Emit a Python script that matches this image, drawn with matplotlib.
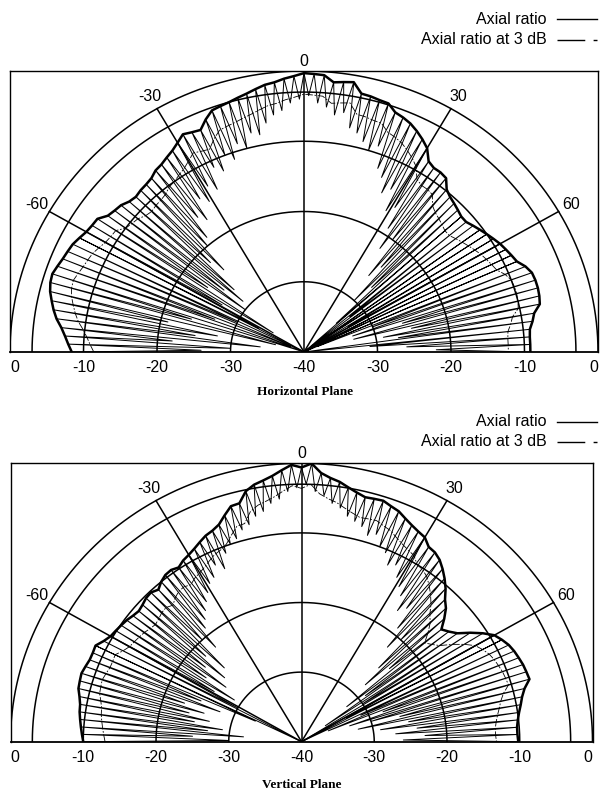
import numpy as np
import matplotlib
matplotlib.use("Agg")
import matplotlib.pyplot as plt
from matplotlib.lines import Line2D


#---DATA---
# peak angles (deg from boresight) and the spinning-linear peaks/nulls in dB
peak_angles = np.arange(-90, 91, 2)
null_angles = np.arange(-89, 90, 2)

horiz_peak = [
    -8.4, -7.9, -7.4, -6.8, -6.0, -5.4, -4.9, -4.4, -4.1, -4.0,
    -4.3, -4.6, -4.8, -5.0, -5.4, -5.8, -6.0, -6.1, -7.0, -7.3,
    -7.5, -8.0, -8.2, -8.0, -7.9, -7.7, -7.2, -7.0, -6.6, -6.2,
    -5.6, -4.9, -5.2, -5.4, -4.3, -3.4, -3.2, -3.0, -2.7, -2.4,
    -2.0, -1.6, -1.4, -1.0, -0.7, -0.3, -0.4, -0.5, -1.4, -1.2,
    -1.0, -2.4, -2.5, -2.7, -2.8, -3.7, -4.0, -4.4, -5.0, -5.7,
    -6.5, -8.0, -8.4, -8.4, -8.6, -9.8, -10.3, -10.6, -10.9, -11.2,
    -11.2, -10.8, -10.4, -10.0, -9.6, -9.2, -8.9, -8.6, -8.3, -7.5,
    -7.0, -6.9, -6.9, -7.0, -7.2, -8.2, -8.6, -9.1, -9.2, -9.2,
    -9.2,
]
horiz_null = [
    -26, -30, -22, -34, -25, -28, -21, -36, -24, -40,
    -27, -38, -30, -40, -33, -27, -35, -24, -30, -26,
    -29, -27, -22, -24, -20, -19, -16, -17, -14, -15,
    -13, -14, -11, -12, -10, -11, -9, -10, -8, -8.5,
    -7, -6, -5.5, -4.5, -4, -3.5, -4.5, -5, -6, -5.5,
    -7.5, -8, -9, -10, -9, -12, -13, -15, -14, -17,
    -16, -19, -22, -20, -26, -24, -30, -27, -34, -40,
    -32, -40, -36, -40, -33, -40, -36, -40, -38, -30,
    -33, -26, -33, -25, -29, -27, -40, -31, -26, -22,
]

vert_peak = [
    -10.0, -9.8, -9.6, -9.4, -9.2, -9.1, -8.8, -8.4, -8.3, -8.2,
    -8.4, -8.6, -8.6, -8.5, -9.2, -9.7, -9.9, -10.1, -10.3, -10.6,
    -10.8, -10.6, -10.3, -10.2, -10.6, -10.0, -9.6, -9.5, -9.8, -9.3,
    -9.0, -8.6, -8.1, -7.6, -7.3, -6.8, -5.8, -4.8, -4.7, -3.2,
    -2.5, -2.1, -1.6, -0.9, -0.2, -0.6, 0.0, -1.3, -1.9, -2.3,
    -2.9, -3.4, -3.8, -3.7, -3.6, -4.0, -4.3, -4.9, -5.4, -5.8,
    -6.1, -7.0, -7.2, -7.7, -8.5, -9.4, -10.4, -11.6, -12.4, -13.6,
    -14.9, -14.3, -13.5, -12.0, -10.6, -9.4, -8.8, -8.3, -8.0, -7.8,
    -7.6, -7.5, -7.4, -8.4, -9.0, -9.4, -9.8, -10.1, -10.3, -10.3,
    -10.2,
]
vert_null = [
    -30, -25, -32, -27, -29, -25, -27, -24, -26, -23,
    -28, -25, -33, -40, -30, -26, -29, -24, -27, -23,
    -26, -22, -25, -20, -22, -19, -18, -17, -16, -15,
    -14, -13.5, -12, -13, -11, -10, -9.5, -8.5, -8, -7,
    -6.5, -5.5, -5, -4, -3.5, -3, -4, -4.5, -5.5, -6,
    -7, -7.5, -8, -9, -8.5, -10, -10.5, -12, -11.5, -13,
    -14, -15, -17, -16, -19, -22, -20, -25, -28, -24,
    -32, -29, -36, -30, -40, -33, -40, -31, -36, -28,
    -33, -30, -26, -32, -25, -29, -24, -27, -23, -26,
]

ring_db = [-30, -20, -10, -3, 0]
spoke_angles = [-60, -30, 0, 30, 60]
bottom_labels = ["0", "-10", "-20", "-30", "-40", "-30", "-20", "-10", "0"]


#---HELPERS---
def to_xy(angles, db):
    r = np.clip((np.asarray(db, dtype=float) + 40) / 40, 0, 1)
    a = np.radians(angles)
    return r * np.sin(a), r * np.cos(a)


def draw_plane(ax, peaks, nulls):
    ax.set_xlim(-1, 1)
    ax.set_ylim(0, 1)
    for s in ax.spines.values():
        s.set_linewidth(1.0)
    ax.spines["bottom"].set_linewidth(1.3)

    # grid rings and spokes
    phi = np.linspace(-90, 90, 361)
    for db in ring_db:
        x, y = to_xy(phi, np.full(phi.shape, db))
        ax.plot(x, y, color="black", lw=1.1, zorder=2)
    for ang in spoke_angles:
        x, y = to_xy([ang, ang], [-40, 0])
        ax.plot(x, y, color="black", lw=1.1, zorder=2)
        rr = 1.035 if ang == 0 else 1.05
        a = np.radians(ang)
        ax.text(rr * np.sin(a), rr * np.cos(a), str(ang), ha="center",
                va="center", fontsize=11.5, family="Liberation Sans",
                clip_on=False)

    # spinning linear pattern: peak -> null -> peak ...
    zig_ang, zig_db = [], []
    for i in range(len(null_angles)):
        zig_ang += [peak_angles[i], null_angles[i]]
        zig_db += [peaks[i], nulls[i]]
    zig_ang.append(peak_angles[-1])
    zig_db.append(peaks[-1])
    x, y = to_xy(zig_ang, zig_db)
    ax.plot(x, y, color="black", lw=0.7, zorder=3)

    # 3 dB reference line
    x, y = to_xy(peak_angles, np.asarray(peaks) - 3)
    ax.plot(x, y, color="black", lw=0.6, dashes=(9, 2, 2, 2), zorder=3)

    # axial ratio envelope
    x, y = to_xy(peak_angles, peaks)
    ax.plot(x, y, color="black", lw=1.8, zorder=4, solid_joinstyle="round")

    ax.set_xticks(np.linspace(-1, 1, 9))
    ax.set_xticklabels(bottom_labels, fontsize=11.5, family="Liberation Sans")
    ax.tick_params(axis="x", length=0, pad=6)
    ax.get_xticklabels()[-1].set_horizontalalignment("right")
    ax.get_xticklabels()[0].set_horizontalalignment("left")
    ax.set_yticks([])


def draw_legend(fig, y_px):
    W, H = fig.get_size_inches() * fig.dpi
    labels = ["Axial ratio", "Axial ratio at 3 dB"]
    for k, lab in enumerate(labels):
        yy = 1 - (y_px + 20.5 * k) / H
        fig.text(547 / W, yy, lab, ha="right", va="center", fontsize=11.5,
                 family="Liberation Sans")
        ln = Line2D([557 / W, 597 / W], [yy, yy], color="black", lw=1.0,
                    transform=fig.transFigure)
        if k == 1:
            ln.set_dashes((20, 6, 3, 10))
        fig.add_artist(ln)


#---FIGURE---
fig = plt.figure(figsize=(6, 7.94), dpi=100)

ax_h = fig.add_axes([10 / 600, 1 - 352 / 794, 588 / 600, 281 / 794])
draw_plane(ax_h, horiz_peak, horiz_null)

ax_v = fig.add_axes([10.5 / 600, 1 - 741.7 / 794, 582 / 600, 278.4 / 794])
draw_plane(ax_v, vert_peak, vert_null)

fig.text(305 / 600, 1 - 392 / 794, "Horizontal Plane", ha="center",
         va="center", fontsize=9.5, fontweight="bold",
         family="Liberation Serif")
fig.text(302 / 600, 1 - 785 / 794, "Vertical Plane", ha="center",
         va="center", fontsize=9.5, fontweight="bold",
         family="Liberation Serif")

draw_legend(fig, 19)
draw_legend(fig, 421.5)

fig.savefig("out.png", dpi=100)
